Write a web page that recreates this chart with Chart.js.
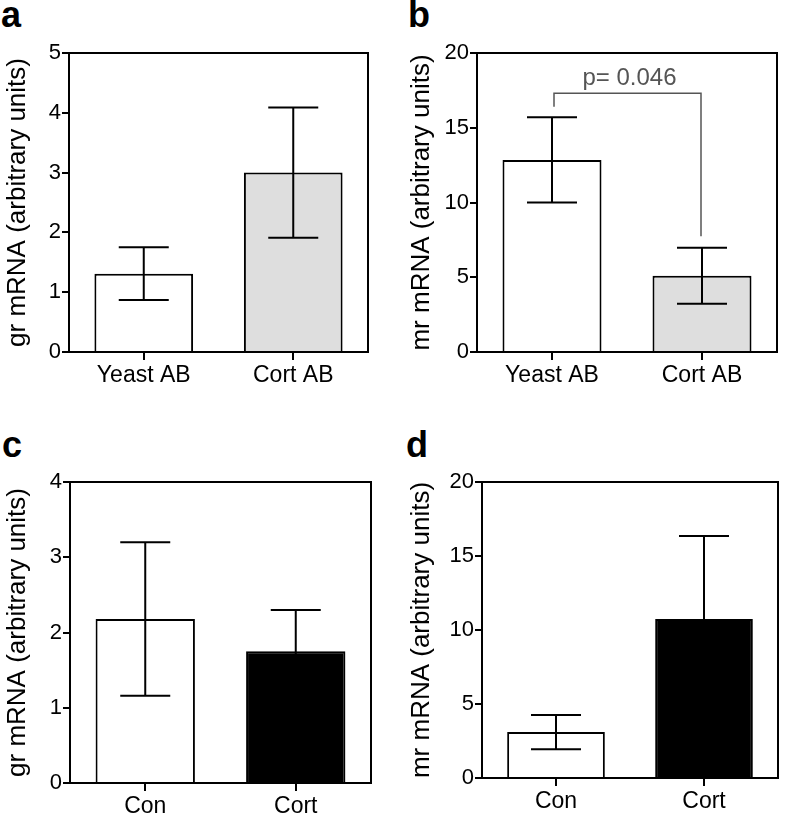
<!DOCTYPE html>
<html lang="en">
  <head>
    <meta charset="UTF-8" />
    <title>gr / mr mRNA bar charts</title>
    <script src="https://cdn.jsdelivr.net/npm/chart.js"></script>
    <style>
      body { margin: 0; background: #fff; }
      #wrap { position: relative; width: 787px; height: 817px; overflow: hidden; }
      canvas { position: absolute; }
      .tag { position: absolute; font: bold 36px "Liberation Sans", Arial, sans-serif; line-height: 36px; color: #000; }
    </style>
  </head>
  <body>
    <div id="wrap">
      <div class="tag" style="left:1px;top:-3px">a</div>
      <div class="tag" style="left:408px;top:-3px">b</div>
      <div class="tag" style="left:2px;top:427px">c</div>
      <div class="tag" style="left:406px;top:427px">d</div>
      <canvas id="chartA" width="390" height="410" style="left:0;top:0"></canvas>
      <canvas id="chartB" width="397" height="410" style="left:390px;top:0"></canvas>
      <canvas id="chartC" width="390" height="407" style="left:0;top:410px"></canvas>
      <canvas id="chartD" width="397" height="407" style="left:390px;top:410px"></canvas>
    </div>
    <script>
      // data
      const antibodyLabels = ["Yeast AB", "Cort AB"];
      const treatLabels = ["Con", "Cort"];

      const grAB = [1.31, 3.0];
      const grABErr = [0.44, 1.09];
      const mrAB = [12.85, 5.1];
      const mrABErr = [2.85, 1.88];

      const grTreat = [2.18, 1.75];
      const grTreatErr = [1.02, 0.55];
      const mrTreat = [3.1, 10.75];
      const mrTreatErr = [1.15, 5.6];

      // bracket in panel b: top, left end, right end (y values)
      const bracketB = [17.3, 16.4, 7.75];
      const pLabelB = "p= 0.046";

      const greyFill = "#dedede";
      const FONT = "'Liberation Sans', Arial, sans-serif";

      // error bars + frame drawn from the chart's own scales
      const errorBars = {
        id: "errorBars",
        afterDatasetsDraw(chart, args, opts) {
          const ctx = chart.ctx;
          const y = chart.scales.y;
          const meta = chart.getDatasetMeta(0);
          const vals = chart.data.datasets[0].data;
          ctx.save();
          ctx.strokeStyle = "#000";
          ctx.lineWidth = 2;
          meta.data.forEach((bar, i) => {
            const top = y.getPixelForValue(vals[i] + opts.err[i]);
            const bot = y.getPixelForValue(vals[i] - opts.err[i]);
            ctx.beginPath();
            ctx.moveTo(bar.x, top);
            ctx.lineTo(bar.x, bot);
            ctx.moveTo(bar.x - 25, top);
            ctx.lineTo(bar.x + 25, top);
            ctx.moveTo(bar.x - 25, bot);
            ctx.lineTo(bar.x + 25, bot);
            ctx.stroke();
          });
          const a = chart.chartArea;
          ctx.strokeRect(a.left, a.top, a.right - a.left, a.bottom - a.top);

          if (opts.bracket) {
            const b = opts.bracket;
            const x0 = meta.data[0].x + 2;
            const x1 = meta.data[1].x - 1;
            ctx.strokeStyle = "#555";
            ctx.lineWidth = 1.5;
            ctx.beginPath();
            ctx.moveTo(x0, y.getPixelForValue(b[1]));
            ctx.lineTo(x0, y.getPixelForValue(b[0]));
            ctx.lineTo(x1, y.getPixelForValue(b[0]));
            ctx.lineTo(x1, y.getPixelForValue(b[2]));
            ctx.stroke();
            ctx.fillStyle = "#555";
            ctx.font = "24px " + FONT;
            ctx.textAlign = "center";
            ctx.textBaseline = "middle";
            ctx.fillText(opts.pText, (x0 + x1) / 2 + 2, y.getPixelForValue(b[0] + 1.0));
          }
          ctx.restore();
        },
      };

      function makeChart(id, labels, values, err, colors, yMax, step, title, box, extra) {
        return new Chart(document.getElementById(id), {
          type: "bar",
          data: {
            labels: labels,
            datasets: [
              {
                data: values,
                backgroundColor: colors,
                borderColor: "#000",
                borderWidth: 2,
                barPercentage: 0.66,
                categoryPercentage: 1,
              },
            ],
          },
          options: {
            responsive: false,
            animation: false,
            layout: { padding: { left: 0, top: box.top, right: box.right, bottom: 0 } },
            plugins: {
              legend: { display: false },
              tooltip: { enabled: false },
              errorBars: Object.assign({ err: err }, extra || {}),
            },
            scales: {
              x: {
                grid: { offset: false, drawOnChartArea: false, drawTicks: true, tickLength: 8, color: "#000", lineWidth: 2 },
                border: { display: true, color: "#000", width: 2 },
                ticks: { color: "#000", font: { family: FONT, size: 23 }, padding: 2 },
                afterFit: (s) => { s.height = box.xh; },
              },
              y: {
                min: 0,
                max: yMax,
                grid: { drawOnChartArea: false, drawTicks: true, tickLength: 7, color: "#000", lineWidth: 2 },
                border: { display: true, color: "#000", width: 2 },
                ticks: { stepSize: step, color: "#000", font: { family: FONT, size: 22 }, padding: 1 },
                title: {
                  display: true,
                  text: title,
                  color: "#000",
                  font: { family: FONT, size: 26 },
                  padding: { top: box.tp, bottom: 0 },
                },
                afterFit: (s) => { s.width = box.left; },
              },
            },
          },
          plugins: [errorBars],
        });
      }

      makeChart("chartA", antibodyLabels, grAB, grABErr, ["#fff", greyFill], 5, 1,
        "gr mRNA (arbitrary units)", { left: 69, top: 53, right: 22, xh: 58, tp: 2 });
      makeChart("chartB", antibodyLabels, mrAB, mrABErr, ["#fff", greyFill], 20, 5,
        "mr mRNA (arbitrary units)", { left: 87, top: 53, right: 10, xh: 58, tp: 16 },
        { bracket: bracketB, pText: pLabelB });
      makeChart("chartC", treatLabels, grTreat, grTreatErr, ["#fff", "#000"], 4, 1,
        "gr mRNA (arbitrary units)", { left: 70, top: 72, right: 19, xh: 34, tp: 2 });
      makeChart("chartD", treatLabels, mrTreat, mrTreatErr, ["#fff", "#000"], 20, 5,
        "mr mRNA (arbitrary units)", { left: 92, top: 72, right: 9, xh: 39, tp: 16 });
    </script>
  </body>
</html>
